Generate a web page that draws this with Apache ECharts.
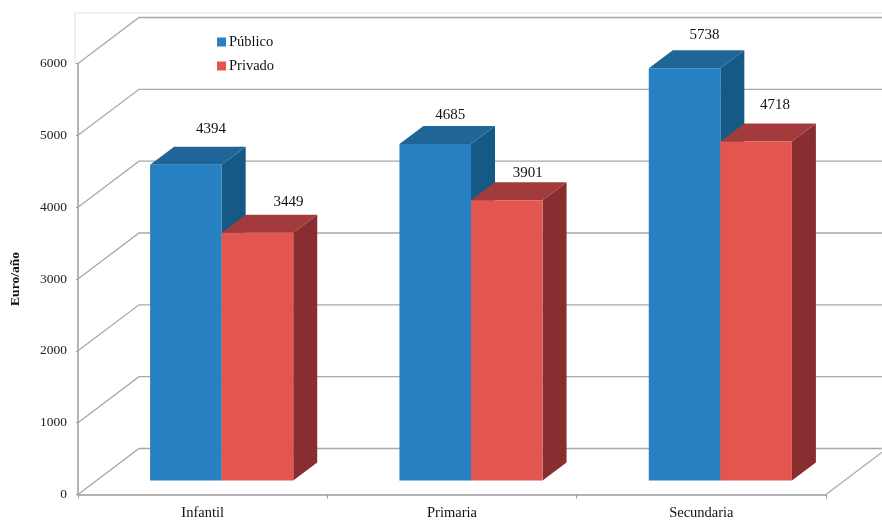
<!DOCTYPE html>
<html>
<head>
<meta charset="utf-8">
<style>html,body{margin:0;padding:0;background:#fff}#c{width:882px;height:520px}</style>
<script src="https://cdn.jsdelivr.net/npm/echarts@6/dist/echarts.min.js"></script>
</head>
<body>
<div id="c"></div>
<script>
const categories = ['Infantil', 'Primaria', 'Secundaria'];
const publico = [4394, 4685, 5738];
const privado = [3449, 3901, 4718];
const yTicks = [0, 1000, 2000, 3000, 4000, 5000, 6000];

// Layout of the pseudo-3D drawing
const FONT = '"Liberation Serif", serif';
const WALL = [61, -46], SHIFT = [19, -14], DEPTH = [24, -18], BAR_RATIO = 0.287;
const GRID_COLOR = '#a8a8a8';
const labelNudge = {
  'Público': [[25, -36], [15, -29], [20, -33]],
  'Privado': [[31, -31], [21, -27], [19, -37]]
};

function wallItem(params, api) {
  const cs = params.coordSys;
  const v = api.value(1);
  const y = api.coord([0, v])[1];
  const x0 = cs.x, x1 = cs.x + cs.width;
  const style = { stroke: GRID_COLOR, lineWidth: 1.3, fill: null };
  const children = [{
    type: 'polyline', silent: true,
    shape: { points: [[x0, y], [x0 + WALL[0], y + WALL[1]], [x1 + WALL[0], y + WALL[1]]] },
    style
  }];
  if (v === 0) {
    children.push({
      type: 'line', silent: true,
      shape: { x1: x1, y1: y, x2: x1 + WALL[0], y2: y + WALL[1] },
      style
    });
  }
  return { type: 'group', children };
}

function barRenderer(side, colors, name) {
  return function (params, api) {
    const cat = api.value(0), val = api.value(1);
    const bandW = api.size([1, 0])[0];
    const w = bandW * BAR_RATIO;
    const top = api.coord([cat, val]);
    const base = api.coord([cat, 0]);
    const xL = top[0] + SHIFT[0] + (side < 0 ? -w : 0);
    const xR = xL + w;
    const yT = top[1] + SHIFT[1];
    const yB = base[1] + SHIFT[1];
    const dx = DEPTH[0], dy = DEPTH[1];
    const nudge = labelNudge[name][params.dataIndex];
    return {
      type: 'group',
      children: [
        { type: 'polygon', shape: { points: [[xR, yT], [xR + dx, yT + dy], [xR + dx, yB + dy], [xR, yB]] }, style: { fill: colors.side } },
        { type: 'polygon', shape: { points: [[xL, yT], [xL + dx, yT + dy], [xR + dx, yT + dy], [xR, yT]] }, style: { fill: colors.top } },
        { type: 'rect', shape: { x: xL, y: yT, width: w, height: yB - yT }, style: { fill: colors.front } },
        { type: 'text', style: {
            text: String(val), x: (xL + xR) / 2 + nudge[0], y: yT + nudge[1],
            align: 'center', verticalAlign: 'middle',
            font: '15px ' + FONT, fill: '#111'
        } }
      ]
    };
  };
}

const chart = echarts.init(document.getElementById('c'), null, { renderer: 'canvas' });
chart.setOption({
  animation: false,
  backgroundColor: '#fff',
  textStyle: { fontFamily: FONT },
  graphic: [{
    type: 'polyline', silent: true, z: -1,
    shape: { points: [[75, 64], [75, 13], [882, 13]] },
    style: { stroke: '#e6e6e6', lineWidth: 1.2, fill: null }
  }],
  legend: {
    orient: 'vertical', left: 212, top: 29.5,
    itemWidth: 9, itemHeight: 9, itemGap: 9,
    icon: 'rect',
    data: ['Público', 'Privado'],
    selectedMode: false,
    textStyle: { fontFamily: FONT, fontSize: 14.5, color: '#111', padding: [0, 0, 0, -2] }
  },
  grid: { left: 78, right: 56, top: 63.5, bottom: 25.5, outerBoundsMode: 'none' },
  xAxis: {
    type: 'category', data: categories, boundaryGap: true,
    axisLine: { lineStyle: { color: '#9a9a9a', width: 1.5 } },
    axisTick: { show: true, length: 4, lineStyle: { color: '#9a9a9a' } },
    axisLabel: { color: '#111', fontFamily: FONT, fontSize: 14.5, margin: 11 },
    splitLine: { show: false }
  },
  yAxis: {
    type: 'value', min: 0, max: 6000, interval: 1000,
    name: 'Euro/año', nameLocation: 'middle', nameGap: 55,
    nameTextStyle: { fontFamily: FONT, fontSize: 13.5, fontWeight: 'bold', color: '#111' },
    axisLine: { show: true, lineStyle: { color: '#9a9a9a', width: 1.5 } },
    axisTick: { show: true, length: 2, lineStyle: { color: '#9a9a9a' } },
    axisLabel: { color: '#222', fontFamily: FONT, fontSize: 13.5, margin: 11, formatter: v => String(v) },
    splitLine: { show: false }
  },
  series: [
    {
      name: 'walls', type: 'custom', z: 1, silent: true, clip: false,
      renderItem: wallItem,
      data: yTicks.map(v => [0, v]),
      encode: { x: 0, y: 1 }
    },
    {
      name: 'Público', type: 'custom', z: 2, clip: false,
      itemStyle: { color: '#2780c2' },
      renderItem: barRenderer(-1, { front: '#2780c2', top: '#1f6597', side: '#155a85' }, 'Público'),
      data: publico.map((v, i) => [i, v]),
      encode: { x: 0, y: 1 }
    },
    {
      name: 'Privado', type: 'custom', z: 3, clip: false,
      itemStyle: { color: '#e2564f' },
      renderItem: barRenderer(1, { front: '#e2564f', top: '#a33a3b', side: '#882e30' }, 'Privado'),
      data: privado.map((v, i) => [i, v]),
      encode: { x: 0, y: 1 }
    }
  ]
});
</script>
</body>
</html>
